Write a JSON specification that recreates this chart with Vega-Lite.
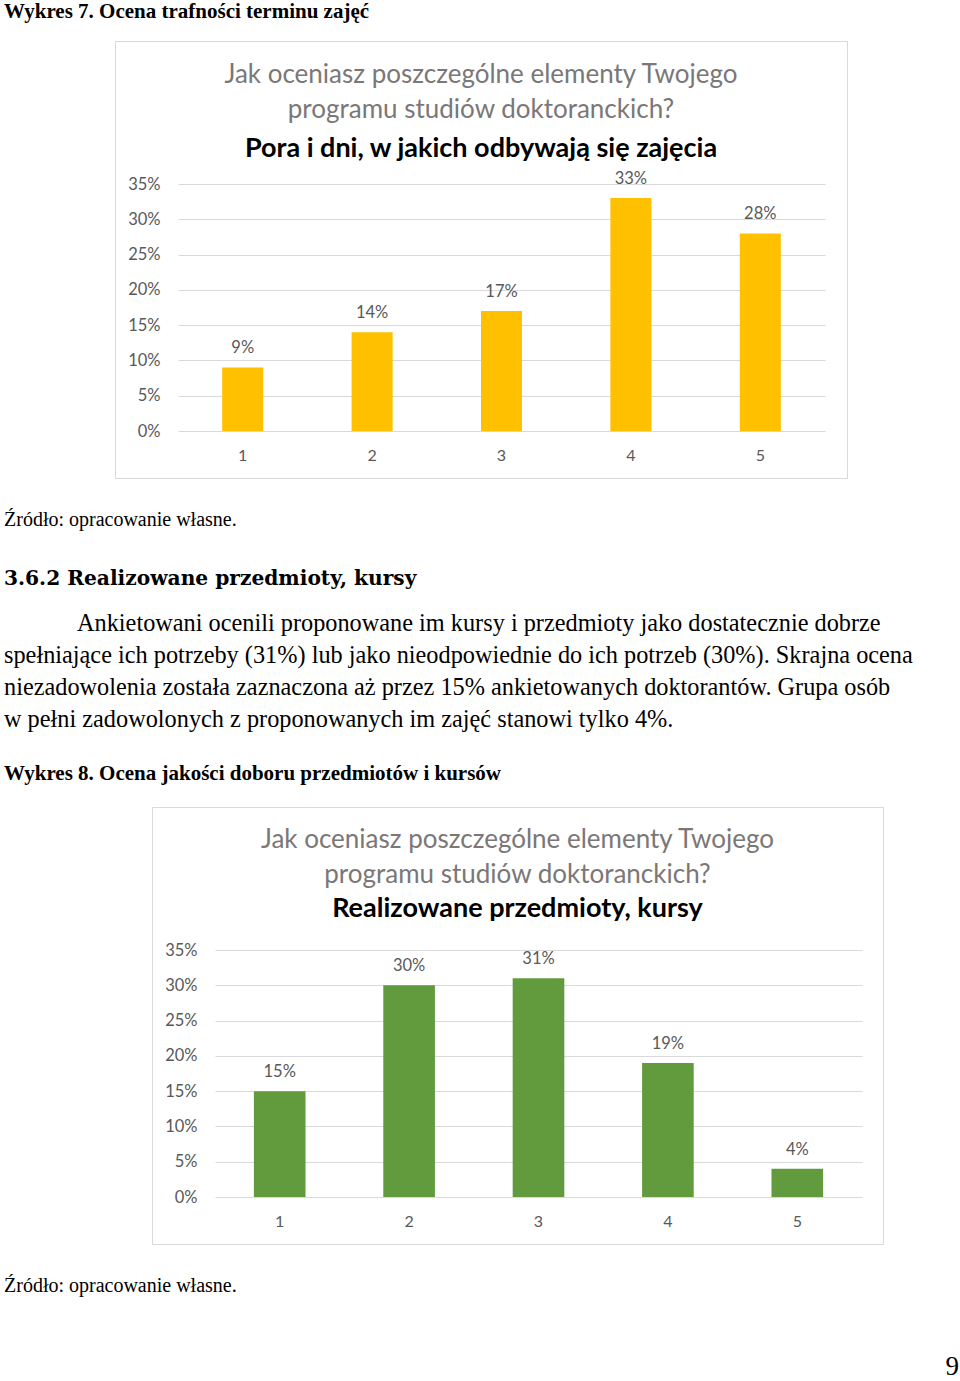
{
  "$schema": "https://vega.github.io/schema/vega-lite/v6.json",
  "padding": 0,
  "spacing": 0,
  "background": "white",
  "config": {
    "view": {"stroke": null},
    "concat": {"spacing": 0}
  },
  "vconcat": [
    {
      "width": 960, "height": 40,
      "data": {"values": [{"t": "Wykres 7. Ocena trafności terminu zajęć"}]},
      "mark": {"type": "text", "align": "left", "baseline": "middle", "font": "Liberation Serif", "fontSize": 21, "fontWeight": "bold", "color": "#000"},
      "encoding": {"x": {"value": 4}, "y": {"value": 11.5}, "text": {"field": "t"}}
    },
    {
      "hconcat": [
        {
          "width": 114, "height": 437,
          "data": {"values": []},
          "mark": "text",
          "encoding": {}
        },
        {
          "width": 732, "height": 437,
          "view": {"stroke": "#d9d9d9", "strokeWidth": 1},
          "title": {
            "text": ["Jak oceniasz poszczególne elementy Twojego", "programu studiów doktoranckich?"],
            "subtitle": "Pora i dni, w jakich odbywają się zajęcia",
            "anchor": "middle", "frame": "group", "offset": -121,
            "font": "Lato", "fontSize": 26, "fontWeight": "normal", "color": "#7b7777", "lineHeight": 35,
            "subtitleFont": "Lato", "subtitleFontSize": 27, "subtitleFontWeight": "bold", "subtitleColor": "#000", "subtitlePadding": 13
          },
          "data": {"values": [
            {"k": "1", "v": 0.09},
            {"k": "2", "v": 0.14},
            {"k": "3", "v": 0.17},
            {"k": "4", "v": 0.33},
            {"k": "5", "v": 0.28}
          ]},
          "encoding": {
            "x": {"field": "k", "type": "ordinal",
              "scale": {"range": [63, 710], "paddingInner": 0.683, "paddingOuter": 0.3415},
              "axis": {"title": null, "labelAngle": 0, "domain": false, "ticks": false, "tickSize": 0, "labelPadding": 16, "offset": -47, "grid": false, "labelFont": "Lato", "labelFontSize": 16, "labelColor": "#595959"}},
            "y": {"field": "v", "type": "quantitative",
              "scale": {"domain": [0, 0.35], "range": [390, 143], "nice": false},
              "axis": {"title": null, "values": [0, 0.05, 0.1, 0.15, 0.2, 0.25, 0.3, 0.35], "format": ".0%", "domain": false, "ticks": false, "tickSize": 0, "labelPadding": 0, "offset": -45, "grid": true, "gridColor": "#d9d9d9", "gridWidth": 1, "labelFont": "Lato", "labelFontSize": 16.5, "labelColor": "#595959"}}
          },
          "layer": [
            {"mark": {"type": "bar", "color": "#FFC000"}},
            {"mark": {"type": "text", "dy": -19, "baseline": "middle", "font": "Lato", "fontSize": 16.5, "color": "#595959"},
             "encoding": {"text": {"field": "v", "format": ".0%"}}}
          ]
        }
      ]
    },
    {
      "width": 960, "height": 327,
      "layer": [
        {
          "data": {"values": [{"t": "Źródło: opracowanie własne."}]},
          "mark": {"type": "text", "align": "left", "baseline": "middle", "font": "Liberation Serif", "fontSize": 20, "color": "#000"},
          "encoding": {"x": {"value": 4}, "y": {"value": 41}, "text": {"field": "t"}}
        },
        {
          "data": {"values": [{"t": "3.6.2 Realizowane przedmioty, kursy"}]},
          "mark": {"type": "text", "align": "left", "baseline": "middle", "font": "DejaVu Serif", "fontSize": 20.2, "fontWeight": "bold", "color": "#000"},
          "encoding": {"x": {"value": 4}, "y": {"value": 100}, "text": {"field": "t"}}
        },
        {
          "data": {"values": [{"t": "Ankietowani ocenili proponowane im kursy i przedmioty jako dostatecznie dobrze"}]},
          "mark": {"type": "text", "align": "left", "baseline": "middle", "font": "Liberation Serif", "fontSize": 24.3, "color": "#000"},
          "encoding": {"x": {"value": 77}, "y": {"value": 145}, "text": {"field": "t"}}
        },
        {
          "data": {"values": [{"t": "spełniające ich potrzeby (31%) lub jako nieodpowiednie do ich potrzeb (30%). Skrajna ocena"}]},
          "mark": {"type": "text", "align": "left", "baseline": "middle", "font": "Liberation Serif", "fontSize": 24.3, "color": "#000"},
          "encoding": {"x": {"value": 4}, "y": {"value": 177}, "text": {"field": "t"}}
        },
        {
          "data": {"values": [{"t": "niezadowolenia została zaznaczona aż przez 15% ankietowanych doktorantów. Grupa osób"}]},
          "mark": {"type": "text", "align": "left", "baseline": "middle", "font": "Liberation Serif", "fontSize": 24.3, "color": "#000"},
          "encoding": {"x": {"value": 4}, "y": {"value": 209}, "text": {"field": "t"}}
        },
        {
          "data": {"values": [{"t": "w pełni zadowolonych z proponowanych im zajęć stanowi tylko 4%."}]},
          "mark": {"type": "text", "align": "left", "baseline": "middle", "font": "Liberation Serif", "fontSize": 24.3, "color": "#000"},
          "encoding": {"x": {"value": 4}, "y": {"value": 241}, "text": {"field": "t"}}
        },
        {
          "data": {"values": [{"t": "Wykres 8. Ocena jakości doboru przedmiotów i kursów"}]},
          "mark": {"type": "text", "align": "left", "baseline": "middle", "font": "Liberation Serif", "fontSize": 21, "fontWeight": "bold", "color": "#000"},
          "encoding": {"x": {"value": 4}, "y": {"value": 295}, "text": {"field": "t"}}
        }
      ]
    },
    {
      "hconcat": [
        {
          "width": 151, "height": 437,
          "data": {"values": []},
          "mark": "text",
          "encoding": {}
        },
        {
          "width": 731, "height": 437,
          "view": {"stroke": "#d9d9d9", "strokeWidth": 1},
          "title": {
            "text": ["Jak oceniasz poszczególne elementy Twojego", "programu studiów doktoranckich?"],
            "subtitle": "Realizowane przedmioty, kursy",
            "anchor": "middle", "frame": "group", "offset": -115,
            "font": "Lato", "fontSize": 26, "fontWeight": "normal", "color": "#7b7777", "lineHeight": 35,
            "subtitleFont": "Lato", "subtitleFontSize": 27, "subtitleFontWeight": "bold", "subtitleColor": "#000", "subtitlePadding": 8
          },
          "data": {"values": [
            {"k": "1", "v": 0.15},
            {"k": "2", "v": 0.30},
            {"k": "3", "v": 0.31},
            {"k": "4", "v": 0.19},
            {"k": "5", "v": 0.04}
          ]},
          "encoding": {
            "x": {"field": "k", "type": "ordinal",
              "scale": {"range": [63, 710], "paddingInner": 0.601, "paddingOuter": 0.3005},
              "axis": {"title": null, "labelAngle": 0, "domain": false, "ticks": false, "tickSize": 0, "labelPadding": 16, "offset": -47, "grid": false, "labelFont": "Lato", "labelFontSize": 16, "labelColor": "#595959"}},
            "y": {"field": "v", "type": "quantitative",
              "scale": {"domain": [0, 0.35], "range": [390, 143], "nice": false},
              "axis": {"title": null, "values": [0, 0.05, 0.1, 0.15, 0.2, 0.25, 0.3, 0.35], "format": ".0%", "domain": false, "ticks": false, "tickSize": 0, "labelPadding": 0, "offset": -45, "grid": true, "gridColor": "#d9d9d9", "gridWidth": 1, "labelFont": "Lato", "labelFontSize": 16.5, "labelColor": "#595959"}}
          },
          "layer": [
            {"mark": {"type": "bar", "color": "#619B3D"}},
            {"mark": {"type": "text", "dy": -19, "baseline": "middle", "font": "Lato", "fontSize": 16.5, "color": "#595959"},
             "encoding": {"text": {"field": "v", "format": ".0%"}}}
          ]
        }
      ]
    },
    {
      "width": 960, "height": 138,
      "layer": [
        {
          "data": {"values": [{"t": "Źródło: opracowanie własne."}]},
          "mark": {"type": "text", "align": "left", "baseline": "middle", "font": "Liberation Serif", "fontSize": 20, "color": "#000"},
          "encoding": {"x": {"value": 4}, "y": {"value": 41}, "text": {"field": "t"}}
        },
        {
          "data": {"values": [{"t": "9"}]},
          "mark": {"type": "text", "align": "right", "baseline": "middle", "font": "Liberation Serif", "fontSize": 27, "color": "#000"},
          "encoding": {"x": {"value": 959}, "y": {"value": 122}, "text": {"field": "t"}}
        }
      ]
    }
  ]
}
